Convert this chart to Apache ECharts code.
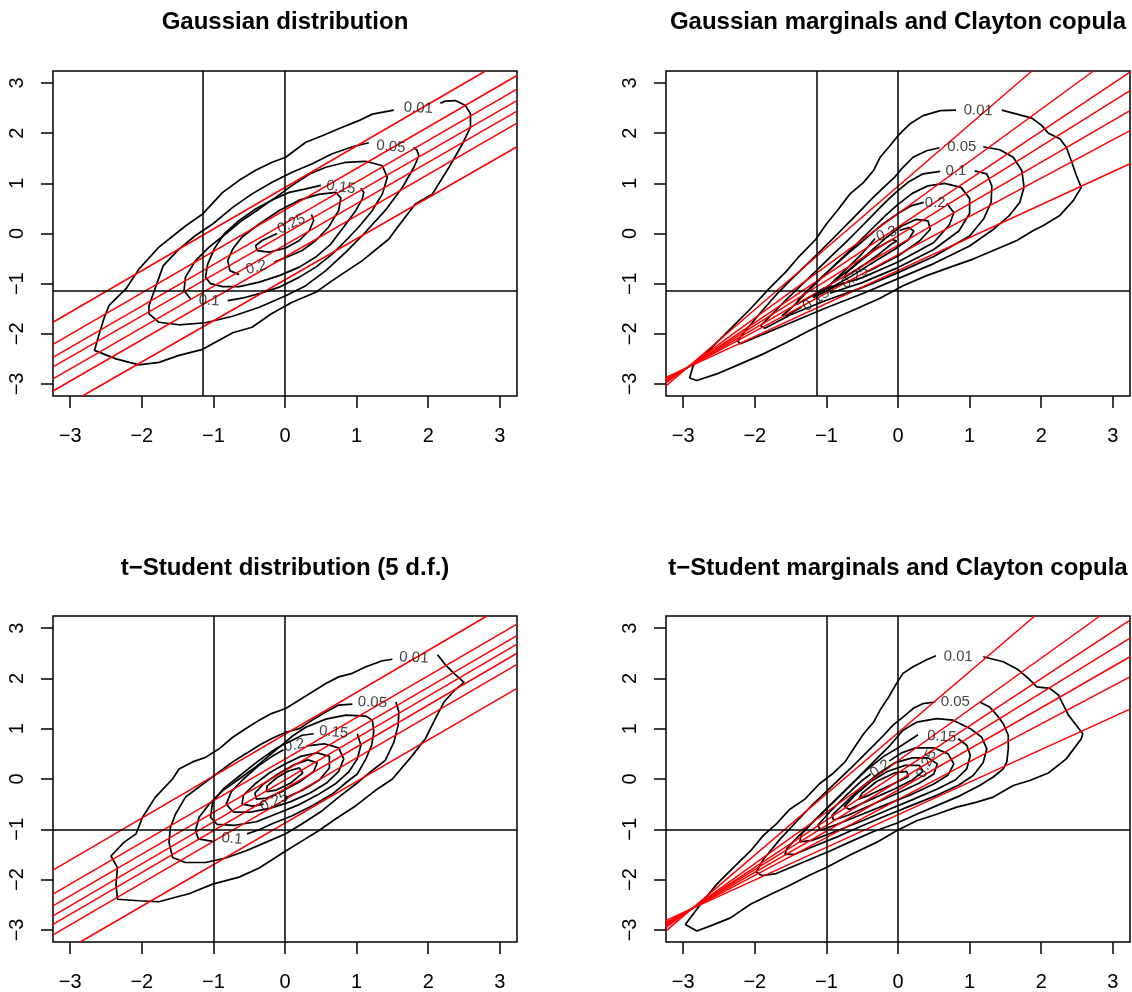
<!DOCTYPE html>
<html>
<head>
<meta charset="utf-8">
<script src="https://cdn.jsdelivr.net/npm/echarts@6/dist/echarts.min.js"></script>
<style>
html,body{margin:0;padding:0;background:#fff}
#chart{width:1132px;height:992px}
</style>
</head>
<body>
<div id="chart"></div>
<script>
// tick labels shared by all panels
var ticks = [-3, -2, -1, 0, 1, 2, 3];
var titles = ['Gaussian distribution', 'Gaussian marginals and Clayton copula',
  't\u2212Student distribution (5 d.f.)', 't\u2212Student marginals and Clayton copula'];

// ---------- panel 1 : Gaussian ----------
var p1c01 = [[1.52,2.46],[1.22,2.38],[1.03,2.25],[0.75,2.09],[0.52,1.95],[0.29,1.82],[0.01,1.52],[-0.18,1.42],[-0.41,1.26],[-0.64,1.06],[-0.87,0.82],[-1.15,0.39],[-1.39,0.15],[-1.76,-0.27],[-2.04,-0.71],[-2.22,-1.10],[-2.46,-1.44],[-2.53,-1.70],[-2.60,-2.03],[-2.66,-2.33],[-2.36,-2.50],[-2.04,-2.62],[-1.76,-2.57],[-1.48,-2.43],[-1.15,-2.31],[-0.73,-1.98],[-0.46,-1.87],[-0.19,-1.60],[0.10,-1.37],[0.43,-1.17],[0.66,-0.94],[1.08,-0.54],[1.45,-0.11],[1.59,0.16],[1.82,0.59],[2.06,0.79],[2.29,1.32],[2.48,1.79],[2.59,2.12],[2.59,2.39],[2.52,2.55],[2.38,2.65],[2.24,2.64],[2.17,2.60]];
var p1c05 = [[1.17,1.81],[0.94,1.73],[0.66,1.59],[0.38,1.39],[0.10,1.22],[-0.18,1.02],[-0.46,0.79],[-0.73,0.52],[-1.01,0.19],[-1.25,-0.04],[-1.48,-0.31],[-1.70,-0.64],[-1.80,-1.04],[-1.90,-1.44],[-1.90,-1.60],[-1.76,-1.77],[-1.48,-1.82],[-1.11,-1.78],[-0.73,-1.65],[-0.36,-1.47],[0.01,-1.24],[0.29,-1.04],[0.57,-0.74],[0.85,-0.37],[1.08,-0.04],[1.40,0.46],[1.64,0.92],[1.80,1.32],[1.87,1.55],[1.84,1.67],[1.79,1.71]];
var p1c10 = [[-1.32,-1.30],[-1.41,-1.14],[-1.39,-0.87],[-1.25,-0.54],[-1.06,-0.27],[-0.83,-0.01],[-0.60,0.26],[-0.36,0.49],[-0.13,0.72],[0.10,0.96],[0.35,1.19],[0.57,1.32],[0.85,1.42],[1.13,1.44],[1.36,1.35],[1.43,1.12],[1.36,0.79],[1.22,0.46],[1.03,0.13],[0.85,-0.14],[0.66,-0.41],[0.43,-0.67],[0.20,-0.87],[-0.08,-1.07],[-0.36,-1.20],[-0.60,-1.29],[-0.80,-1.34]];
var p1c15 = [[0.50,0.96],[0.29,0.89],[0.06,0.82],[-0.18,0.67],[-0.41,0.49],[-0.64,0.26],[-0.85,-0.01],[-0.99,-0.31],[-1.08,-0.61],[-1.11,-0.87],[-1.04,-1.00],[-0.87,-1.06],[-0.64,-1.06],[-0.36,-0.97],[-0.08,-0.84],[0.20,-0.67],[0.43,-0.47],[0.64,-0.21],[0.82,0.13],[0.99,0.46],[1.08,0.69],[1.10,0.82],[1.06,0.90]];
var p1c20 = [[-0.64,-0.82],[-0.77,-0.74],[-0.80,-0.54],[-0.73,-0.31],[-0.60,-0.07],[-0.36,0.19],[-0.08,0.46],[0.19,0.66],[0.47,0.78],[0.71,0.82],[0.78,0.71],[0.75,0.46],[0.61,0.13],[0.43,-0.14],[0.24,-0.34],[0.03,-0.47],[-0.15,-0.57]];
var p1c25 = [[0.37,0.38],[0.40,0.26],[0.34,0.06],[0.20,-0.14],[0.01,-0.29],[-0.22,-0.37],[-0.39,-0.34],[-0.41,-0.24],[-0.32,-0.14],[-0.11,0.00]];
// label: [x, y, text, rotation]
var p1labels = [[1.86,2.50,'0.01',-3],[1.48,1.73,'0.05',-5],[0.78,0.92,'0.15',-8],[0.09,0.19,'0.25',25],[-0.40,-0.68,'0.2',15],[-1.06,-1.34,'0.1',-3]];
var p1red = [[[-3.24,-1.77],[2.80,3.24]],[[-3.24,-2.21],[3.24,3.15]],[[-3.24,-2.47],[3.24,2.88]],[[-3.24,-2.66],[3.24,2.65]],[[-3.24,-2.90],[3.24,2.44]],[[-3.24,-3.14],[3.24,2.20]],[[-2.83,-3.24],[3.24,1.73]]];
var p1refX = [-1.15, 0];
var p1refY = [-1.15];

// ---------- panel 2 : Gaussian marginals, Clayton copula ----------
var p2c01 = [[0.81,2.46],[0.59,2.45],[0.35,2.35],[0.17,2.19],[0.00,1.95],[-0.13,1.72],[-0.25,1.52],[-0.34,1.26],[-0.48,1.02],[-0.67,0.79],[-0.83,0.49],[-1.00,0.19],[-1.15,-0.12],[-1.37,-0.44],[-1.57,-0.77],[-1.80,-1.10],[-2.06,-1.50],[-2.34,-1.90],[-2.62,-2.30],[-2.86,-2.63],[-2.91,-2.88],[-2.81,-2.93],[-2.53,-2.80],[-2.20,-2.60],[-1.88,-2.40],[-1.55,-2.17],[-1.23,-1.93],[-0.90,-1.70],[-0.58,-1.50],[-0.25,-1.29],[0.07,-1.04],[0.40,-0.84],[0.73,-0.67],[1.05,-0.51],[1.38,-0.31],[1.66,-0.14],[1.89,0.06],[2.03,0.16],[2.26,0.36],[2.45,0.66],[2.56,0.92],[2.49,1.16],[2.42,1.45],[2.35,1.72],[2.26,1.89],[2.10,2.00],[2.01,2.15],[1.87,2.30],[1.66,2.38],[1.45,2.46]];
var p2c05 = [[0.58,1.71],[0.40,1.65],[0.21,1.52],[0.07,1.32],[-0.05,1.12],[-0.20,0.92],[-0.36,0.70],[-0.52,0.46],[-0.70,0.20],[-0.88,-0.06],[-1.07,-0.33],[-1.27,-0.61],[-1.48,-0.90],[-1.70,-1.22],[-1.92,-1.58],[-2.12,-1.92],[-2.24,-2.14],[-2.20,-2.20],[-2.00,-2.08],[-1.50,-1.78],[-1.00,-1.48],[-0.50,-1.20],[0.00,-0.90],[0.50,-0.60],[1.00,-0.25],[1.33,0.08],[1.55,0.35],[1.70,0.62],[1.76,0.92],[1.73,1.25],[1.61,1.52],[1.42,1.67],[1.19,1.73]];
var p2c10 = [[0.59,1.24],[0.35,1.19],[0.14,1.02],[-0.03,0.82],[-0.20,0.59],[-0.37,0.34],[-0.55,0.08],[-0.74,-0.19],[-0.94,-0.46],[-1.14,-0.74],[-1.35,-1.03],[-1.56,-1.32],[-1.78,-1.64],[-1.92,-1.84],[-1.86,-1.89],[-1.50,-1.62],[-1.00,-1.33],[-0.50,-1.08],[0.00,-0.78],[0.50,-0.46],[1.00,-0.05],[1.20,0.30],[1.30,0.62],[1.31,0.95],[1.24,1.19],[1.07,1.25]];
var p2c15 = [[-0.95,-1.19],[-0.50,-0.98],[0.00,-0.68],[0.50,-0.32],[0.85,0.05],[1.00,0.40],[1.00,0.70],[0.88,0.92],[0.65,1.00],[0.42,0.95],[0.20,0.80],[0.00,0.58],[-0.18,0.35],[-0.38,0.07],[-0.60,-0.24],[-0.82,-0.54],[-1.05,-0.86],[-1.28,-1.18],[-1.50,-1.50],[-1.62,-1.64],[-1.55,-1.63],[-1.35,-1.47]];
var p2c20 = [[0.68,0.60],[0.78,0.42],[0.72,0.18],[0.50,-0.18],[0.00,-0.57],[-0.50,-0.88],[-1.00,-1.10],[-1.30,-1.32],[-1.42,-1.42],[-1.38,-1.30],[-1.18,-1.02],[-0.95,-0.72],[-0.70,-0.40],[-0.45,-0.10],[-0.22,0.18],[0.00,0.40],[0.18,0.55],[0.36,0.62]];
var p2c25 = [[-0.42,-0.76],[0.00,-0.45],[0.30,-0.15],[0.45,0.08],[0.42,0.25],[0.25,0.28],[0.05,0.15],[-0.18,-0.10],[-0.42,-0.40],[-0.68,-0.72],[-0.95,-1.02],[-1.15,-1.22],[-1.18,-1.28],[-1.05,-1.18],[-0.80,-1.00]];
var p2c30 = [[0.02,0.06],[0.15,0.12],[0.22,0.05],[0.15,-0.12],[-0.05,-0.32],[-0.35,-0.58],[-0.65,-0.85],[-0.90,-1.05],[-0.98,-1.08],[-0.90,-0.95],[-0.70,-0.68],[-0.50,-0.40],[-0.32,-0.10]];
var p2c35 = [[-0.10,-0.22],[-0.30,-0.45],[-0.55,-0.70],[-0.75,-0.88],[-0.72,-0.78],[-0.50,-0.52],[-0.28,-0.28],[-0.08,-0.12],[-0.02,-0.15],[-0.10,-0.22]];
var p2labels = [[1.12,2.45,'0.01',-2],[0.89,1.72,'0.05',0],[0.81,1.25,'0.1',0],[0.52,0.62,'0.2',0],[-0.16,-0.01,'0.3',20],[-0.60,-0.87,'0.25',35],[-1.14,-1.32,'0.15',35]];
var p2red = [[[-3.24,-3.04],[1.87,3.24]],[[-3.24,-2.98],[2.73,3.24]],[[-3.24,-2.96],[3.24,3.22]],[[-3.24,-2.94],[3.24,2.85]],[[-3.24,-2.92],[3.24,2.45]],[[-3.24,-2.90],[3.24,2.05]],[[-3.24,-2.87],[3.24,1.39]]];
var p2refX = [-1.14, 0];
var p2refY = [-1.14];

// ---------- panel 3 : t-Student ----------
var p3c01 = [[1.50,2.38],[1.36,2.35],[1.13,2.23],[0.94,2.10],[0.75,2.03],[0.57,1.90],[0.38,1.73],[0.20,1.57],[0.01,1.40],[-0.19,1.30],[-0.36,1.17],[-0.55,1.00],[-0.73,0.83],[-0.92,0.60],[-1.11,0.43],[-1.29,0.34],[-1.48,0.20],[-1.57,0.00],[-1.81,-0.36],[-1.99,-0.76],[-2.08,-1.09],[-2.25,-1.26],[-2.43,-1.53],[-2.34,-1.76],[-2.36,-2.09],[-2.34,-2.39],[-2.04,-2.42],[-1.76,-2.44],[-1.53,-2.35],[-1.34,-2.28],[-1.01,-2.09],[-0.64,-1.95],[-0.36,-1.77],[0.01,-1.43],[0.24,-1.23],[0.47,-1.03],[0.71,-0.79],[0.99,-0.53],[1.26,-0.23],[1.50,0.00],[1.78,0.47],[1.96,0.80],[2.10,1.20],[2.22,1.53],[2.36,1.75],[2.50,1.92],[2.36,2.10],[2.24,2.27],[2.13,2.47]];
var p3c05 = [[0.94,1.49],[0.75,1.47],[0.57,1.33],[0.38,1.17],[0.20,1.00],[0.01,0.93],[-0.19,0.80],[-0.36,0.67],[-0.55,0.50],[-0.73,0.34],[-0.92,0.14],[-1.10,-0.05],[-1.39,-0.36],[-1.53,-0.70],[-1.60,-0.96],[-1.62,-1.26],[-1.57,-1.56],[-1.39,-1.66],[-1.11,-1.66],[-0.83,-1.57],[-0.55,-1.43],[-0.27,-1.26],[0.01,-1.09],[0.24,-0.89],[0.52,-0.63],[0.75,-0.36],[0.99,-0.10],[1.20,0.15],[1.40,0.37],[1.52,0.73],[1.58,1.07],[1.59,1.33],[1.55,1.53]];
var p3c10 = [[-1.01,-1.24],[-1.21,-1.19],[-1.25,-1.03],[-1.20,-0.76],[-1.06,-0.50],[-0.87,-0.23],[-0.64,0.00],[-0.40,0.25],[-0.15,0.55],[0.10,0.85],[0.29,1.03],[0.57,1.19],[0.85,1.27],[1.13,1.25],[1.22,1.17],[1.24,0.93],[1.21,0.67],[1.13,0.40],[1.01,0.10],[0.89,-0.03],[0.66,-0.30],[0.38,-0.53],[0.10,-0.73],[-0.18,-0.89],[-0.36,-1.01],[-0.53,-1.09]];
var p3c15 = [[1.01,0.90],[1.06,0.67],[1.01,0.40],[0.89,0.14],[0.70,-0.10],[0.45,-0.32],[0.18,-0.52],[-0.10,-0.68],[-0.40,-0.85],[-0.70,-0.92],[-0.95,-0.90],[-1.04,-0.76],[-1.01,-0.45],[-0.85,-0.18],[-0.62,0.08],[-0.38,0.35],[-0.13,0.60],[0.06,0.74],[0.24,0.87],[0.40,0.90]];
var p3c20 = [[0.30,0.66],[0.55,0.70],[0.75,0.62],[0.82,0.40],[0.75,0.15],[0.58,-0.08],[0.35,-0.28],[0.08,-0.45],[-0.20,-0.58],[-0.48,-0.66],[-0.72,-0.66],[-0.82,-0.50],[-0.75,-0.25],[-0.58,0.00],[-0.38,0.25],[-0.18,0.45],[-0.02,0.58]];
var p3c25 = [[0.00,-0.38],[0.25,-0.22],[0.48,-0.02],[0.62,0.22],[0.62,0.45],[0.45,0.52],[0.22,0.45],[0.00,0.30],[-0.22,0.12],[-0.42,-0.10],[-0.58,-0.32],[-0.60,-0.50],[-0.45,-0.54],[-0.30,-0.50]];
var p3c30 = [[0.40,0.15],[0.45,0.32],[0.32,0.38],[0.12,0.28],[-0.10,0.10],[-0.30,-0.10],[-0.42,-0.28],[-0.40,-0.40],[-0.25,-0.38],[-0.05,-0.25],[0.20,-0.06],[0.40,0.15]];
var p3c35 = [[0.25,0.12],[0.20,0.22],[0.05,0.16],[-0.12,0.02],[-0.25,-0.14],[-0.26,-0.25],[-0.12,-0.22],[0.08,-0.08],[0.25,0.12]];
var p3labels = [[1.80,2.41,'0.01',-3],[1.22,1.52,'0.05',-3],[0.68,0.93,'0.15',-5],[0.13,0.67,'0.2',10],[-0.15,-0.45,'0.25',25],[-0.74,-1.19,'0.1',-5]];
var p3red = [[[-3.24,-1.81],[2.82,3.24]],[[-3.24,-2.29],[3.24,3.08]],[[-3.24,-2.52],[3.24,2.85]],[[-3.24,-2.72],[3.24,2.68]],[[-3.24,-2.89],[3.24,2.50]],[[-3.24,-3.10],[3.24,2.28]],[[-2.86,-3.24],[3.24,1.80]]];
var p3refX = [-1, 0];
var p3refY = [-1];

// ---------- panel 4 : t-Student marginals, Clayton copula ----------
var p4c01 = [[0.53,2.45],[0.40,2.37],[0.21,2.23],[0.07,2.10],[-0.02,1.90],[-0.13,1.63],[-0.25,1.37],[-0.34,1.13],[-0.48,0.90],[-0.62,0.60],[-0.74,0.34],[-0.90,0.12],[-1.10,-0.10],[-1.30,-0.40],[-1.51,-0.60],[-1.69,-0.88],[-1.88,-1.12],[-2.06,-1.43],[-2.30,-1.76],[-2.53,-2.09],[-2.72,-2.42],[-2.97,-2.89],[-2.81,-3.02],[-2.60,-2.91],[-2.34,-2.76],[-2.06,-2.49],[-1.79,-2.30],[-1.51,-2.11],[-1.23,-1.91],[-1.00,-1.76],[-0.67,-1.51],[-0.30,-1.26],[-0.02,-1.03],[0.26,-0.83],[0.54,-0.70],[0.82,-0.56],[1.10,-0.46],[1.33,-0.36],[1.61,-0.13],[1.84,-0.03],[2.10,0.12],[2.35,0.40],[2.56,0.80],[2.58,0.90],[2.49,1.07],[2.38,1.27],[2.31,1.47],[2.24,1.67],[2.12,1.80],[1.94,1.83],[1.82,2.00],[1.68,2.17],[1.47,2.33],[1.19,2.43]];
var p4c05 = [[0.52,1.53],[0.35,1.50],[0.21,1.40],[0.07,1.23],[-0.07,1.07],[-0.20,0.87],[-0.34,0.67],[-0.48,0.47],[-0.62,0.27],[-0.78,0.05],[-0.98,-0.22],[-1.20,-0.52],[-1.42,-0.85],[-1.65,-1.20],[-1.88,-1.60],[-1.98,-1.85],[-1.90,-1.92],[-1.70,-1.88],[-1.45,-1.73],[-1.20,-1.58],[-0.95,-1.43],[-0.67,-1.25],[-0.35,-1.05],[-0.02,-0.88],[0.26,-0.70],[0.59,-0.50],[0.87,-0.33],[1.14,-0.13],[1.33,0.04],[1.47,0.20],[1.52,0.34],[1.54,0.60],[1.54,0.87],[1.47,1.10],[1.38,1.27],[1.28,1.43],[1.14,1.53]];
var p4c10 = [[0.26,1.13],[0.54,1.20],[0.77,1.17],[1.01,1.00],[1.17,0.83],[1.24,0.60],[1.19,0.33],[1.05,0.07],[0.85,-0.12],[0.55,-0.32],[0.20,-0.52],[-0.15,-0.72],[-0.50,-0.93],[-0.85,-1.15],[-1.20,-1.35],[-1.45,-1.50],[-1.58,-1.50],[-1.55,-1.38],[-1.38,-1.12],[-1.15,-0.80],[-0.90,-0.46],[-0.68,-0.15],[-0.48,0.14],[-0.30,0.40],[-0.11,0.67],[0.07,0.97],[0.26,1.13]];
var p4c15 = [[0.84,0.80],[0.96,0.67],[1.01,0.47],[0.96,0.20],[0.80,-0.02],[0.55,-0.20],[0.22,-0.40],[-0.12,-0.60],[-0.48,-0.82],[-0.85,-1.03],[-1.20,-1.22],[-1.37,-1.25],[-1.35,-1.10],[-1.15,-0.80],[-0.90,-0.45],[-0.65,-0.10],[-0.42,0.20],[-0.20,0.45],[-0.02,0.60],[0.12,0.73],[0.28,0.88]];
var p4c20 = [[-0.12,0.36],[0.05,0.52],[0.25,0.62],[0.50,0.62],[0.70,0.50],[0.78,0.30],[0.70,0.08],[0.50,-0.10],[0.20,-0.30],[-0.15,-0.50],[-0.50,-0.70],[-0.85,-0.90],[-1.08,-1.02],[-1.12,-0.92],[-0.95,-0.65],[-0.72,-0.32],[-0.52,-0.05],[-0.38,0.10]];
var p4c25 = [[0.55,0.30],[0.50,0.10],[0.30,-0.08],[0.00,-0.28],[-0.35,-0.50],[-0.70,-0.72],[-0.90,-0.82],[-0.92,-0.72],[-0.72,-0.45],[-0.50,-0.15],[-0.28,0.10],[-0.05,0.32],[0.20,0.42],[0.42,0.42],[0.55,0.30]];
var p4c30 = [[0.35,0.15],[0.20,-0.02],[-0.05,-0.20],[-0.40,-0.42],[-0.68,-0.60],[-0.75,-0.55],[-0.60,-0.32],[-0.38,-0.05],[-0.15,0.15],[0.10,0.27],[0.30,0.27],[0.35,0.15]];
var p4c35 = [[0.15,0.05],[-0.10,-0.12],[-0.40,-0.32],[-0.55,-0.40],[-0.50,-0.28],[-0.30,-0.05],[-0.05,0.12],[0.12,0.15],[0.15,0.05]];
var p4labels = [[0.84,2.43,'0.01',-2],[0.80,1.53,'0.05',0],[0.61,0.84,'0.15',-3],[-0.25,0.20,'0.2',35],[0.40,0.30,'0.25',65]];
var p4red = [[[-3.24,-3.02],[1.91,3.24]],[[-3.24,-2.95],[2.82,3.24]],[[-3.24,-2.92],[3.24,3.16]],[[-3.24,-2.89],[3.24,2.80]],[[-3.24,-2.87],[3.24,2.43]],[[-3.24,-2.85],[3.24,2.03]],[[-3.24,-2.81],[3.24,1.39]]];
var p4refX = [-1, 0];
var p4refY = [-1];

var panels = [
  {contours: [p1c01, p1c05, p1c10, p1c15, p1c20, p1c25], labels: p1labels, red: p1red, refX: p1refX, refY: p1refY},
  {contours: [p2c01, p2c05, p2c10, p2c15, p2c20, p2c25, p2c30, p2c35], labels: p2labels, red: p2red, refX: p2refX, refY: p2refY},
  {contours: [p3c01, p3c05, p3c10, p3c15, p3c20, p3c25, p3c30, p3c35], labels: p3labels, red: p3red, refX: p3refX, refY: p3refY},
  {contours: [p4c01, p4c05, p4c10, p4c15, p4c20, p4c25, p4c30, p4c35], labels: p4labels, red: p4red, refX: p4refX, refY: p4refY}
];

var boxes = [
  {left: 53, top: 71, width: 464, height: 325},
  {left: 666, top: 71, width: 464, height: 325},
  {left: 53, top: 616, width: 464, height: 326},
  {left: 666, top: 616, width: 464, height: 326}
];

var FONT = '"Liberation Sans", Arial, Helvetica, sans-serif';
function minus(v) { return String(v).replace('-', '\u2212'); }

var grid = [], xAxis = [], yAxis = [], series = [], graphic = [];

boxes.forEach(function (b, i) {
  grid.push({left: b.left, top: b.top, width: b.width, height: b.height,
    show: true, borderColor: '#000', borderWidth: 1.5, backgroundColor: 'transparent'});
  xAxis.push({
    type: 'value', gridIndex: i, min: -3.24, max: 3.24, position: 'bottom',
    axisLine: {show: false, onZero: false}, splitLine: {show: false},
    axisTick: {show: true, length: 12, customValues: ticks, lineStyle: {color: '#000', width: 1.5}},
    axisLabel: {customValues: ticks, margin: 30, fontSize: 20, color: '#000', fontFamily: FONT, formatter: minus}
  });
  yAxis.push({
    type: 'value', gridIndex: i, min: -3.24, max: 3.24, position: 'left',
    axisLine: {show: false, onZero: false}, splitLine: {show: false},
    axisTick: {show: true, length: 12, customValues: ticks, lineStyle: {color: '#000', width: 1.5}},
    axisLabel: {customValues: ticks, margin: 26, rotate: 90, fontSize: 20, color: '#000', fontFamily: FONT, formatter: minus}
  });
  graphic.push({
    type: 'text', x: b.left + b.width / 2, y: i < 2 ? 22 : 568,
    style: {text: titles[i], font: 'bold 24px ' + FONT, fill: '#000', align: 'center', verticalAlign: 'middle',
      textAlign: 'center', textVerticalAlign: 'middle'}
  });
});

panels.forEach(function (p, i) {
  p.contours.forEach(function (c, k) {
    var s = {
      type: 'line', xAxisIndex: i, yAxisIndex: i, data: c, showSymbol: false, symbol: 'none',
      lineStyle: {color: '#000', width: 1.7}, silent: true, animation: false, clip: true, z: 2
    };
    if (k === 0) {
      var md = [];
      p.refX.forEach(function (v) { md.push({xAxis: v}); });
      p.refY.forEach(function (v) { md.push({yAxis: v}); });
      s.markLine = {symbol: ['none', 'none'], silent: true, animation: false, label: {show: false},
        lineStyle: {color: '#000', width: 1.5, type: 'solid'}, data: md};
    }
    series.push(s);
  });
  p.red.forEach(function (r) {
    series.push({
      type: 'line', xAxisIndex: i, yAxisIndex: i, data: r, showSymbol: false, symbol: 'none',
      lineStyle: {color: '#ff0000', width: 1.5}, silent: true, animation: false, clip: true, z: 3
    });
  });
  series.push({
    type: 'scatter', xAxisIndex: i, yAxisIndex: i, symbolSize: 0, silent: true, animation: false, z: 4,
    data: p.labels.map(function (l) {
      return {value: [l[0], l[1]], name: l[2], label: {rotate: l[3]}};
    }),
    label: {show: true, position: 'inside', formatter: '{b}', fontSize: 15, color: '#111', fontFamily: FONT}
  });
});

var chart = echarts.init(document.getElementById('chart'), null, {renderer: 'canvas'});
chart.setOption({
  backgroundColor: '#fff',
  animation: false,
  grid: grid, xAxis: xAxis, yAxis: yAxis, series: series, graphic: graphic
});
</script>
</body>
</html>
